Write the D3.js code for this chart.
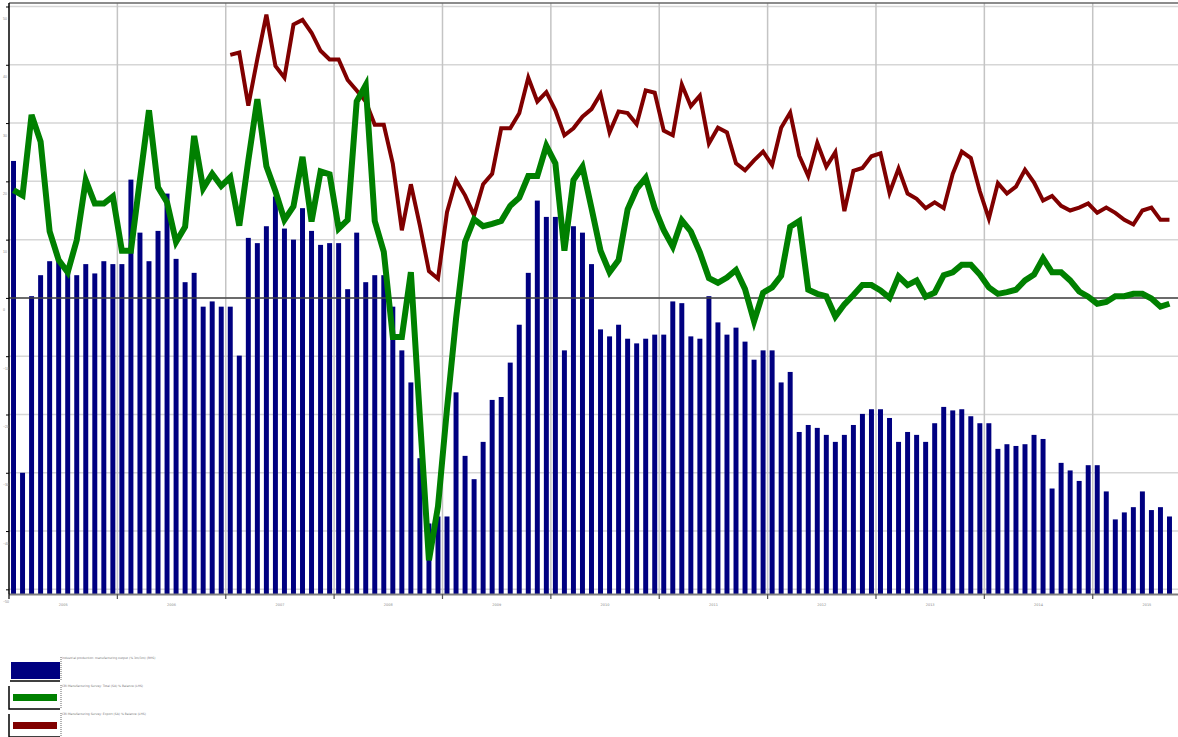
<!DOCTYPE html>
<html>
<head>
<meta charset="utf-8">
<script src="https://cdn.jsdelivr.net/npm/d3@7"></script>
<style>
  body { margin: 0; background: #fff; }
  svg { display: block; }
</style>
</head>
<body>
<div id="chartCt"></div>
<script>
// months Jan 2005 - Sep 2015
var years = ["2005", "2006", "2007", "2008", "2009", "2010", "2011", "2012", "2013", "2014", "2015"];
var monthNames = ["Jan", "Feb", "Mar", "Apr", "May", "Jun", "Jul", "Aug", "Sep", "Oct", "Nov", "Dec"];
var monthCount = 129;

var yTicks = [-50, -40, -30, -20, -10, 0, 10, 20, 30, 40, 50];

var seriesNames = [
    "Industrial production: manufacturing output (% 3m/3m) (RHS)",
    "CBI Manufacturing Survey: Total (SA) % Balance (LHS)",
    "CBI Manufacturing Survey: Export (SA) % Balance (LHS)"
];

var outputValues = [
    23.5, -30.0, 0.3, 3.9, 6.3, 6.3, 5.2, 3.9, 5.8, 4.2,
    6.3, 5.8, 5.8, 20.3, 11.2, 6.3, 11.5, 17.9, 6.7, 2.7,
    4.3, -1.5, -0.6, -1.5, -1.5, -9.9, 10.3, 9.4, 12.3, 17.4,
    11.9, 10.0, 15.4, 11.5, 9.1, 9.4, 9.4, 1.5, 11.2, 2.7,
    3.9, 3.9, -1.5, -9.0, -14.5, -27.5, -38.7, -37.5, -37.5, -16.2,
    -27.1, -31.1, -24.7, -17.5, -17.0, -11.1, -4.6, 4.3, 16.7, 13.9,
    13.9, -9.0, 12.3, 11.2, 5.8, -5.4, -6.6, -4.6, -7.0, -7.8,
    -7.0, -6.3, -6.3, -0.6, -0.9, -6.6, -7.0, 0.3, -4.2, -6.3,
    -5.1, -7.5, -10.6, -9.0, -9.0, -14.5, -12.7, -23.0, -21.8, -22.3,
    -23.5, -24.7, -23.5, -21.8, -19.9, -19.1, -19.1, -20.6, -24.7, -23.0,
    -23.5, -24.7, -21.5, -18.7, -19.3, -19.1, -20.3, -21.5, -21.5, -25.9,
    -25.1, -25.4, -25.1, -23.5, -24.2, -32.7, -28.3, -29.6, -31.4, -28.7,
    -28.7, -33.2, -38.0, -36.8, -35.9, -33.2, -36.4, -35.9, -37.5
];

var totalValues = [
    18.5, 17.6, 31.4, 26.8, 11.4, 6.5, 4.4, 9.9, 20.2, 16.2,
    16.2, 17.4, 8.1, 8.1, 20.3, 32.2, 19.0, 16.4, 9.6, 12.2,
    27.8, 18.8, 21.3, 19.2, 20.7, 12.4, 23.6, 34.1, 22.6, 18.3,
    13.4, 15.7, 24.2, 13.1, 21.7, 21.2, 11.9, 13.4, 33.7, 36.5,
    13.2, 7.9, -6.7, -6.7, 4.4, -20.6, -45.0, -35.8, -19.0, -3.6,
    9.6, 13.5, 12.3, 12.7, 13.2, 15.8, 17.2, 20.9, 20.9, 26.1,
    23.1, 8.1, 20.2, 22.5, 15.4, 8.1, 4.4, 6.5, 15.2, 18.7,
    20.6, 15.4, 11.6, 8.8, 13.3, 11.4, 7.8, 3.4, 2.6, 3.5,
    4.8, 1.5, -4.0, 0.9, 1.8, 3.8, 12.2, 13.2, 1.4, 0.7,
    0.3, -3.2, -1.1, 0.5, 2.2, 2.2, 1.3, 0.0, 3.7, 2.2,
    3.0, 0.2, 0.9, 3.9, 4.4, 5.7, 5.7, 4.0, 1.8, 0.7,
    1.0, 1.4, 3.0, 4.0, 6.8, 4.4, 4.4, 3.0, 1.1, 0.2,
    -1.0, -0.7, 0.3, 0.3, 0.7, 0.7, -0.1, -1.5, -1.0
];

var exportValues = [
    null, null, null, null, null, null, null, null, null, null,
    null, null, null, null, null, null, null, null, null, null,
    null, null, null, null, 41.7, 42.1, 33.0, 41.0, 48.6, 39.8,
    37.8, 46.9, 47.7, 45.5, 42.4, 40.9, 40.9, 37.4, 35.6, 33.7,
    29.7, 29.7, 23.0, 11.6, 19.5, 12.4, 4.6, 3.3, 14.7, 20.2,
    17.6, 14.2, 19.5, 21.3, 29.1, 29.1, 31.7, 37.8, 33.7, 35.3,
    32.2, 27.9, 29.1, 31.1, 32.4, 35.0, 28.4, 32.0, 31.7, 29.8,
    35.6, 35.2, 28.7, 27.9, 36.6, 32.9, 34.7, 26.5, 29.2, 28.4,
    23.1, 21.9, 23.6, 25.1, 22.8, 29.2, 31.8, 24.4, 20.9, 26.6,
    22.5, 25.0, 14.9, 21.8, 22.3, 24.3, 24.8, 18.0, 22.2, 17.9,
    17.0, 15.4, 16.4, 15.4, 21.3, 25.1, 24.0, 18.3, 13.6, 19.7,
    17.9, 19.1, 22.0, 19.8, 16.7, 17.5, 15.8, 15.0, 15.5, 16.2,
    14.6, 15.5, 14.6, 13.4, 12.6, 15.0, 15.5, 13.4, 13.4
];

var months = [];
for (var i = 0; i < monthCount; i++) {
    months.push(monthNames[i % 12] + " " + years[Math.floor(i / 12)]);
}

var width = 1178, height = 737;
var plot = { left: 9, right: 1178, top: 3, bottom: 594 };

var svg = d3.select("#chartCt")
    .append("svg")
    .attr("width", width)
    .attr("height", height)
    .style("font-family", "'DejaVu Sans', sans-serif");

var x = d3.scaleBand()
    .domain(months)
    .range([plot.left, 1174])
    .paddingInner(0.45)
    .paddingOuter(0.225);

var y = d3.scaleLinear()
    .domain([-50.8, 50.6])
    .range([plot.bottom, plot.top]);

var halfGap = (x.step() - x.bandwidth()) / 2;
function bandStart(i) { return x(months[i]) - halfGap; }
function mid(d, i) { return x(months[i]) + x.bandwidth() / 2; }

// horizontal grid
svg.append("g")
    .selectAll("line")
    .data(yTicks)
    .enter().append("line")
    .attr("x1", plot.left).attr("x2", plot.right)
    .attr("y1", function (d) { return y(d); })
    .attr("y2", function (d) { return y(d); })
    .attr("stroke", "#d6d6d6")
    .attr("stroke-width", 1.5);

// vertical grid, one per year
svg.append("g")
    .selectAll("line")
    .data(years.slice(1))
    .enter().append("line")
    .attr("x1", function (d, i) { return bandStart((i + 1) * 12); })
    .attr("x2", function (d, i) { return bandStart((i + 1) * 12); })
    .attr("y1", plot.top).attr("y2", plot.bottom)
    .attr("stroke", "#c4c4c4")
    .attr("stroke-width", 1.5);

// bars from the bottom of the plot
svg.append("g")
    .selectAll("rect")
    .data(outputValues)
    .enter().append("rect")
    .attr("fill", "#000080")
    .attr("x", function (d, i) { return x(months[i]); })
    .attr("width", x.bandwidth())
    .attr("y", function (d) { return y(d); })
    .attr("height", function (d) { return plot.bottom - y(d); });

// zero line
svg.append("line")
    .attr("x1", plot.left).attr("x2", plot.right)
    .attr("y1", y(0)).attr("y2", y(0))
    .attr("stroke", "#444")
    .attr("stroke-width", 1.5);

var line = d3.line()
    .defined(function (d) { return d !== null; })
    .x(mid)
    .y(function (d) { return y(d); });

svg.append("path")
    .datum(exportValues)
    .attr("fill", "none")
    .attr("stroke", "#800000")
    .attr("stroke-width", 4)
    .attr("d", line);

svg.append("path")
    .datum(totalValues)
    .attr("fill", "none")
    .attr("stroke", "#008000")
    .attr("stroke-width", 6)
    .attr("d", line);

// frame: top border, left axis, bottom axis
svg.append("line")
    .attr("x1", plot.left).attr("x2", plot.right)
    .attr("y1", plot.top).attr("y2", plot.top)
    .attr("stroke", "#666").attr("stroke-width", 1.5);

svg.append("line")
    .attr("x1", plot.left).attr("x2", plot.right)
    .attr("y1", plot.bottom + 0.5).attr("y2", plot.bottom + 0.5)
    .attr("stroke", "#808080").attr("stroke-width", 2);

var yAxis = svg.append("g")
    .attr("transform", "translate(" + plot.left + ",0)")
    .call(d3.axisLeft(y).tickValues(yTicks).tickSize(3).tickFormat(d3.format("d")));
yAxis.select(".domain")
    .attr("d", "M0," + plot.top + "V" + plot.bottom)
    .attr("stroke", "#000")
    .attr("stroke-width", 1.5);
yAxis.selectAll(".tick line").attr("stroke", "#000");
yAxis.selectAll(".tick text")
    .attr("x", -6)
    .attr("dy", "13")
    .attr("text-anchor", "start")
    .attr("fill", "#888")
    .style("font-size", "3.5px");

// bottom ticks at year boundaries, labels centred on the year
svg.append("g")
    .selectAll("line")
    .data(years)
    .enter().append("line")
    .attr("x1", function (d, i) { return bandStart(i * 12); })
    .attr("x2", function (d, i) { return bandStart(i * 12); })
    .attr("y1", plot.bottom)
    .attr("y2", plot.bottom + 5)
    .attr("stroke", function (d, i) { return i === 0 ? "#000" : "#555"; })
    .attr("stroke-width", 1.2);

svg.append("g")
    .selectAll("text")
    .data(years)
    .enter().append("text")
    .attr("x", function (d, i) { return bandStart(i * 12) + 6 * x.step(); })
    .attr("y", 606)
    .attr("text-anchor", "middle")
    .attr("fill", "#888")
    .style("font-size", "3.5px")
    .text(function (d) { return d; });

// legend
var legendColors = ["#000080", "#008000", "#800000"];
var legend = svg.append("g")
    .selectAll("g")
    .data(seriesNames)
    .enter().append("g")
    .attr("transform", function (d, i) { return "translate(0," + (657 + i * 28) + ")"; });

legend.append("path")
    .attr("d", function (d, i) { return i === 0 ? "M10,24H60" : "M9,1V24H60"; })
    .attr("fill", "none")
    .attr("stroke", "#000")
    .attr("stroke-width", 1.5);

legend.append("line")
    .attr("x1", 61).attr("x2", 61)
    .attr("y1", 0).attr("y2", 24)
    .attr("stroke", "#999")
    .attr("stroke-width", 1.5)
    .attr("stroke-dasharray", "1,1");

legend.append("rect")
    .attr("x", function (d, i) { return i === 0 ? 11 : 13; })
    .attr("y", function (d, i) { return i === 0 ? 5 : 9; })
    .attr("width", function (d, i) { return i === 0 ? 49 : 44; })
    .attr("height", function (d, i) { return i === 0 ? 17 : 7; })
    .attr("fill", function (d, i) { return legendColors[i]; });

legend.append("text")
    .attr("x", 62)
    .attr("y", 2)
    .attr("fill", "#777")
    .style("font-size", "3px")
    .text(function (d) { return d; });
</script>
</body>
</html>
